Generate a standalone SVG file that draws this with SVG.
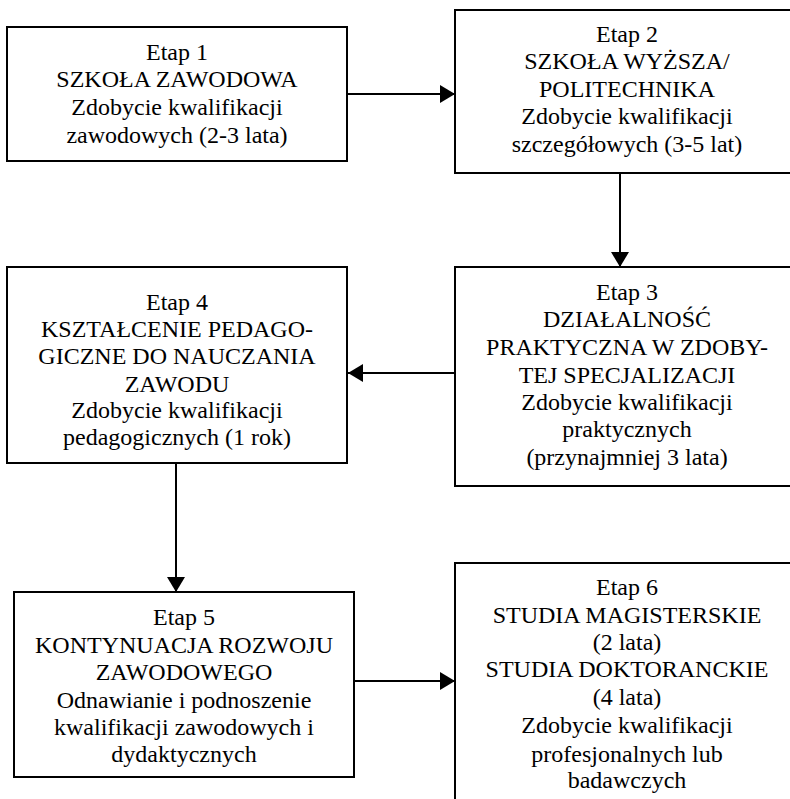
<svg xmlns="http://www.w3.org/2000/svg" width="790" height="799" viewBox="0 0 790 799" font-family="Liberation Serif, Times New Roman, Times, serif">
<style>
.box{fill:#fff;stroke:#000;stroke-width:2}
.t{font-size:24px;fill:#000;text-anchor:middle}
.c{stroke:#000;stroke-width:2;fill:none}
</style>
<defs>
<marker id="ah" markerWidth="16" markerHeight="18" refX="15" refY="9" orient="auto" markerUnits="userSpaceOnUse">
<path d="M0,0 L15,9 L0,18 Z" fill="#000"/>
</marker>
</defs>
<rect width="790" height="799" fill="#fff"/>
<g id="connectors">
<line class="c" x1="347" y1="94" x2="455" y2="94" marker-end="url(#ah)"/>
<line class="c" x1="620" y1="173" x2="620" y2="267" marker-end="url(#ah)"/>
<line class="c" x1="455" y1="373" x2="348" y2="373" marker-end="url(#ah)"/>
<line class="c" x1="176" y1="463" x2="176" y2="592" marker-end="url(#ah)"/>
<line class="c" x1="354" y1="681" x2="455" y2="681" marker-end="url(#ah)"/>
</g>
<g id="node1">
<rect class="box" x="7" y="27" width="340" height="134"/>
<text class="t" x="177" y="60">Etap 1</text>
<text class="t" x="177" y="87">SZKOŁA ZAWODOWA</text>
<text class="t" x="177" y="115">Zdobycie kwalifikacji</text>
<text class="t" x="177" y="143">zawodowych (2-3 lata)</text>
</g>
<g id="node2">
<rect class="box" x="455" y="10" width="345" height="163"/>
<text class="t" x="627" y="42">Etap 2</text>
<text class="t" x="627" y="69">SZKOŁA WYŻSZA/</text>
<text class="t" x="627" y="97">POLITECHNIKA</text>
<text class="t" x="627" y="124">Zdobycie kwalifikacji</text>
<text class="t" x="627" y="152">szczegółowych (3-5 lat)</text>
</g>
<g id="node3">
<rect class="box" x="455" y="267" width="345" height="219"/>
<text class="t" x="627" y="300">Etap 3</text>
<text class="t" x="627" y="327">DZIAŁALNOŚĆ</text>
<text class="t" x="627" y="355">PRAKTYCZNA W ZDOBY-</text>
<text class="t" x="627" y="383">TEJ SPECJALIZACJI</text>
<text class="t" x="627" y="410">Zdobycie kwalifikacji</text>
<text class="t" x="627" y="437">praktycznych</text>
<text class="t" x="627" y="465">(przynajmniej 3 lata)</text>
</g>
<g id="node4">
<rect class="box" x="7" y="267" width="340" height="196"/>
<text class="t" x="177" y="310">Etap 4</text>
<text class="t" x="177" y="337">KSZTAŁCENIE PEDAGO-</text>
<text class="t" x="177" y="364">GICZNE DO NAUCZANIA</text>
<text class="t" x="177" y="392">ZAWODU</text>
<text class="t" x="177" y="418">Zdobycie kwalifikacji</text>
<text class="t" x="177" y="445">pedagogicznych (1 rok)</text>
</g>
<g id="node5">
<rect class="box" x="14" y="592" width="340" height="185"/>
<text class="t" x="184" y="625">Etap 5</text>
<text class="t" x="184" y="653">KONTYNUACJA ROZWOJU</text>
<text class="t" x="184" y="680">ZAWODOWEGO</text>
<text class="t" x="184" y="708">Odnawianie i podnoszenie</text>
<text class="t" x="184" y="735">kwalifikacji zawodowych i</text>
<text class="t" x="184" y="762">dydaktycznych</text>
</g>
<g id="node6">
<rect class="box" x="455" y="563" width="345" height="250"/>
<text class="t" x="627" y="595">Etap 6</text>
<text class="t" x="627" y="623">STUDIA MAGISTERSKIE</text>
<text class="t" x="627" y="650">(2 lata)</text>
<text class="t" x="627" y="677">STUDIA DOKTORANCKIE</text>
<text class="t" x="627" y="705">(4 lata)</text>
<text class="t" x="627" y="733">Zdobycie kwalifikacji</text>
<text class="t" x="627" y="762">profesjonalnych lub</text>
<text class="t" x="627" y="788">badawczych</text>
</g>
</svg>
